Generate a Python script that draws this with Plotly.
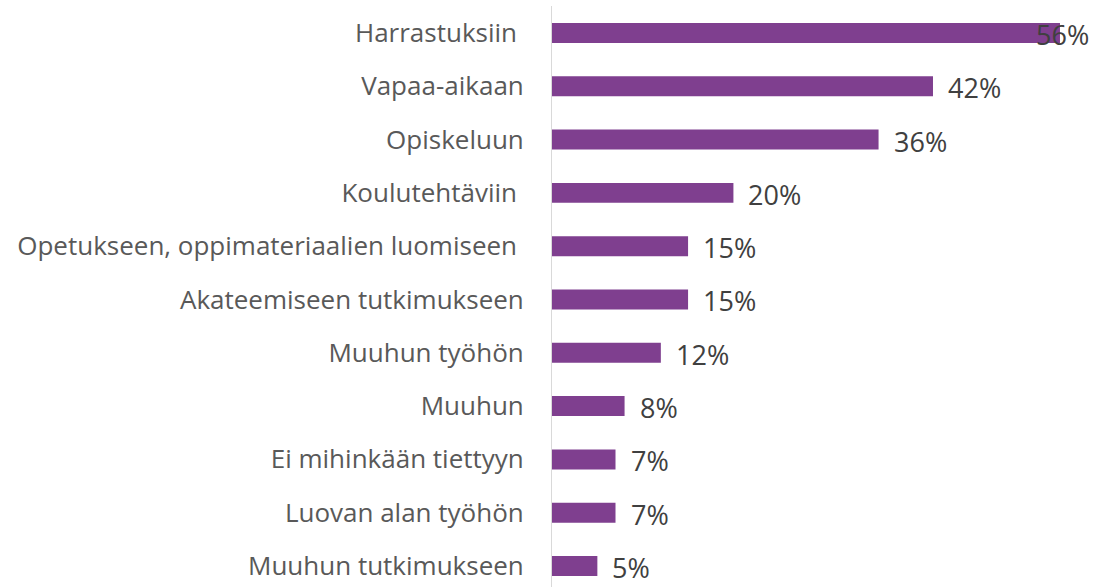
import plotly.graph_objects as go

# Categories listed bottom-to-top so the first entry is drawn lowest
categories = [
    "Muuhun tutkimukseen",
    "Luovan alan työhön",
    "Ei mihinkään tiettyyn",
    "Muuhun",
    "Muuhun työhön",
    "Akateemiseen tutkimukseen",
    "Opetukseen, oppimateriaalien luomiseen ",
    "Koulutehtäviin ",
    "Opiskeluun",
    "Vapaa-aikaan",
    "Harrastuksiin ",
]
values = [5, 7, 7, 8, 12, 15, 15, 20, 36, 42, 56]
value_labels = [f"{v}%" for v in values]

BAR_COLOR = "#7f3f8f"
LABEL_FONT = "Open Sans"

fig = go.Figure(
    go.Bar(
        x=values,
        y=categories,
        orientation="h",
        marker=dict(color=BAR_COLOR, line=dict(width=0)),
        hoverinfo="skip",
    )
)

# Value labels sit just right of each bar; the longest one is pulled
# back to the right edge of the chart so it stays visible.
vmax = max(values)
value_font = dict(family=LABEL_FONT, size=27, color="#404040")
for cat, v, lab in zip(categories, values, value_labels):
    if v == vmax:
        fig.add_annotation(
            x=0.995, xref="paper", y=cat, yref="y", text=lab,
            showarrow=False, xanchor="right", yshift=-1.5,
            font=value_font,
        )
    else:
        fig.add_annotation(
            x=v, xref="x", y=cat, yref="y", text=lab,
            showarrow=False, xanchor="left", xshift=13, yshift=-1.5,
            font=value_font,
        )

fig.update_layout(
    width=1094,
    height=587,
    margin=dict(l=552, r=0, t=6, b=0),
    paper_bgcolor="white",
    plot_bgcolor="white",
    bargap=0.625,
    showlegend=False,
    xaxis=dict(
        range=[0, 59.75],
        visible=False,
        fixedrange=True,
    ),
    yaxis=dict(
        type="category",
        range=[-0.394, 10.506],
        showline=True,
        linecolor="#d9d9d9",
        linewidth=1,
        showgrid=False,
        ticks="",
        ticklabelstandoff=22,
        tickfont=dict(family=LABEL_FONT, size=26, color="#595959"),
        fixedrange=True,
    ),
)

fig.write_html("out.html")
